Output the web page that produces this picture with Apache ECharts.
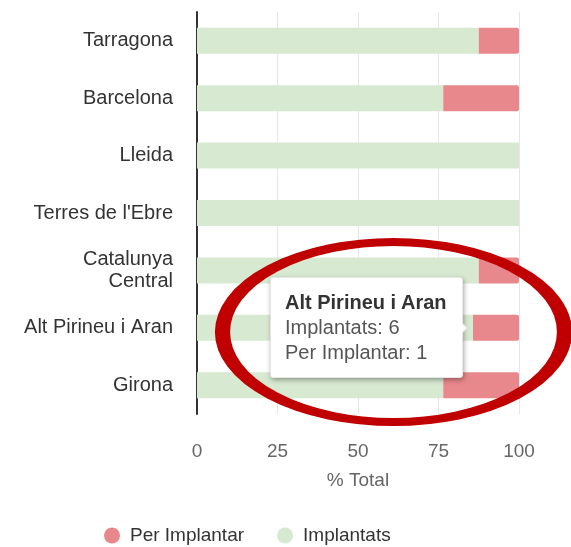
<!DOCTYPE html>
<html>
<head>
<meta charset="utf-8">
<script src="https://cdn.jsdelivr.net/npm/echarts@6/dist/echarts.min.js"></script>
<style>
  html, body { margin: 0; padding: 0; background: #fff; }
  #main { width: 571px; height: 547px; }
</style>
</head>
<body>
<div id="main"></div>
<script>
// regions, top to bottom
var regions = ['Tarragona', 'Barcelona', 'Lleida', "Terres de l'Ebre", 'Catalunya Central', 'Alt Pirineu i Aran', 'Girona'];
var implantats = [7, 13, 5, 3, 7, 6, 13];
var perImplantar = [1, 4, 0, 0, 1, 1, 4];
var xTicks = [0, 25, 50, 75, 100];

function share(a, b) {
  return a.map(function (v, i) { return v / (v + b[i]) * 100; });
}

var font = '"Liberation Sans", Arial, sans-serif';
var myChart = echarts.init(document.getElementById('main'));

var option = {
  animation: false,
  textStyle: { fontFamily: font },
  grid: { left: 197, right: 52, top: 12, bottom: 133, containLabel: false },
  legend: {
    data: ['Per Implantar', 'Implantats'],
    left: 99,
    top: 521,
    icon: 'circle',
    itemWidth: 16,
    itemHeight: 16,
    itemGap: 33,
    textStyle: { fontSize: 19, color: '#333', fontFamily: font, padding: [0, 0, 0, 5] }
  },
  tooltip: {
    trigger: 'item',
    position: 'left',
    alwaysShowContent: true,
    transitionDuration: 0,
    backgroundColor: '#fff',
    borderColor: '#e6e6e6',
    borderWidth: 1,
    padding: [12, 14],
    extraCssText: 'box-shadow: 1px 2px 5px rgba(0,0,0,0.35); border-radius: 3px;',
    textStyle: { fontSize: 20, color: '#333', fontFamily: font },
    formatter: function (p) {
      var i = regions.indexOf(p.name);
      return '<div style="width:163px;line-height:25px;font-size:20px;font-family:' + font.replace(/"/g, "'") + '">' +
        '<b style="color:#333">' + p.name + '</b><br>' +
        '<span style="color:#555">Implantats: ' + implantats[i] + '</span><br>' +
        '<span style="color:#555">Per Implantar: ' + perImplantar[i] + '</span></div>';
    }
  },
  xAxis: {
    type: 'value',
    min: xTicks[0],
    max: xTicks[xTicks.length - 1],
    interval: 25,
    name: '% Total',
    nameLocation: 'middle',
    nameGap: 57,
    nameTextStyle: { fontSize: 19, color: '#666', fontFamily: font, verticalAlign: 'top' },
    axisLine: { show: false },
    axisTick: { show: false },
    axisLabel: { fontSize: 19, color: '#666', margin: 28, fontFamily: font },
    splitLine: { show: true, lineStyle: { color: '#e6e6e6', width: 1 } }
  },
  yAxis: {
    type: 'category',
    inverse: true,
    data: regions,
    axisLine: { show: true, lineStyle: { color: '#333', width: 2 } },
    axisTick: { show: false },
    axisLabel: {
      fontSize: 20,
      color: '#333',
      margin: 24,
      lineHeight: 22,
      fontFamily: font,
      formatter: function (v) { return v === 'Catalunya Central' ? 'Catalunya\nCentral' : v; }
    },
    splitLine: { show: false }
  },
  series: [
    {
      name: 'Implantats',
      type: 'bar',
      stack: 'total',
      barWidth: 26,
      itemStyle: { color: '#d8e9d1' },
      data: share(implantats, perImplantar)
    },
    {
      name: 'Per Implantar',
      type: 'bar',
      stack: 'total',
      barWidth: 26,
      itemStyle: { color: '#e8888c', borderRadius: [0, 2, 2, 0] },
      data: share(perImplantar, implantats)
    }
  ],
  graphic: [{
    type: 'circle',
    x: 393.5,
    y: 332,
    scaleX: 171 / 90,
    scaleY: 1,
    shape: { cx: 0, cy: 0, r: 90 },
    style: { fill: 'none', stroke: '#c00000', lineWidth: 8, strokeNoScale: true },
    z: 100
  }]
};

myChart.setOption(option);
myChart.dispatchAction({ type: 'showTip', seriesIndex: 1, dataIndex: regions.indexOf('Alt Pirineu i Aran') });
</script>
</body>
</html>
